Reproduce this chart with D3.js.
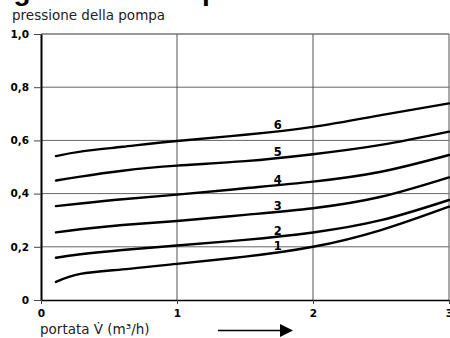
<!DOCTYPE html>
<html>
<head>
<meta charset="utf8">
<style>
  body { margin: 0; background: #fff; }
  svg { display: block; }
</style>
</head>
<body>
<div id="canvas"></div>
<script src="https://cdn.jsdelivr.net/npm/d3@7"></script>
<script>

// portata V (m3/h) at which each curve was read
const portata = [0.11, 0.29, 0.6, 1.0, 1.5, 2.0, 2.5, 3.0];
// pressione della pompa, one array per curve (1 = lowest, 6 = highest)
const curva1 = [0.068, 0.098, 0.115, 0.136, 0.163, 0.200, 0.263, 0.351];
const curva2 = [0.159, 0.172, 0.188, 0.205, 0.226, 0.254, 0.300, 0.376];
const curva3 = [0.254, 0.266, 0.282, 0.297, 0.320, 0.345, 0.388, 0.461];
const curva4 = [0.353, 0.363, 0.379, 0.396, 0.420, 0.445, 0.482, 0.545];
const curva5 = [0.449, 0.464, 0.486, 0.505, 0.522, 0.548, 0.583, 0.633];
const curva6 = [0.541, 0.558, 0.576, 0.598, 0.621, 0.651, 0.695, 0.739];
const curveNames = ["1", "2", "3", "4", "5", "6"];
const yTicks = [0, 0.2, 0.4, 0.6, 0.8, 1.0];
const xTicks = [0, 1, 2, 3];
const labelX = 1.74;

const W = 450, H = 338;
const svg = d3.select("#canvas").append("svg")
    .attr("width", W)
    .attr("height", H)
    .attr("viewBox", `0 0 ${W} ${H}`);

const x = d3.scaleLinear().domain([0, 3]).range([41, 449]);
const y = d3.scaleLinear().domain([0, 1]).range([300, 34]);

// heading cut off at the top edge: only the descenders show
svg.append("text")
    .attr("x", -30)
    .attr("y", -0.5)
    .attr("font-family", "Liberation Sans, Arial, sans-serif")
    .attr("font-weight", "bold")
    .attr("font-size", 28)
    .attr("fill", "#000")
    .text("Diagramma delle prestazioni");

svg.append("text")
    .attr("x", 12)
    .attr("y", 20)
    .attr("font-family", "DejaVu Sans, sans-serif")
    .attr("font-size", 13.5)
    .attr("fill", "#222")
    .text("pressione della pompa");

// grid
svg.append("g").selectAll("line")
    .data(yTicks.filter(d => d > 0))
    .join("line")
    .attr("x1", x(0)).attr("x2", x(3))
    .attr("y1", d => y(d)).attr("y2", d => y(d))
    .attr("stroke", d => d === 1 ? "#333" : "#666")
    .attr("stroke-width", 1);

svg.append("g").selectAll("line")
    .data(xTicks.filter(d => d > 0))
    .join("line")
    .attr("x1", d => x(d)).attr("x2", d => x(d))
    .attr("y1", y(1)).attr("y2", y(0))
    .attr("stroke", "#555")
    .attr("stroke-width", 1);

// axes
const yAxis = svg.append("g")
    .attr("transform", `translate(${x(0)},0)`)
    .call(d3.axisLeft(y)
        .tickValues(yTicks)
        .tickSizeInner(7)
        .tickSizeOuter(0)
        .tickPadding(5)
        .tickFormat(d => d === 0 ? "0" : d3.format(".1f")(d).replace(".", ",")));
yAxis.select(".domain").attr("stroke", "#000").attr("stroke-width", 2);
yAxis.selectAll(".tick line").attr("stroke", "#444");
yAxis.selectAll("text")
    .attr("font-family", "DejaVu Sans, sans-serif")
    .attr("font-weight", "bold")
    .attr("font-size", 10.5)
    .attr("fill", "#000");

const xAxis = svg.append("g")
    .attr("transform", `translate(0,${y(0)})`)
    .call(d3.axisBottom(x)
        .tickValues(xTicks)
        .tickSizeInner(4)
        .tickSizeOuter(0)
        .tickPadding(6)
        .tickFormat(d3.format("d")));
xAxis.select(".domain").attr("stroke", "#000").attr("stroke-width", 1.5);
xAxis.selectAll(".tick line").attr("stroke", "#444");
xAxis.selectAll("text")
    .attr("font-family", "DejaVu Sans, sans-serif")
    .attr("font-weight", "bold")
    .attr("font-size", 10.5)
    .attr("fill", "#000");

// curves
const series = [curva1, curva2, curva3, curva4, curva5, curva6];
const line = d3.line()
    .x(d => x(d[0]))
    .y(d => y(d[1]))
    .curve(d3.curveNatural);

series.forEach((vals, i) => {
    const pts = portata.map((p, j) => [p, vals[j]]);
    svg.append("path")
        .datum(pts)
        .attr("fill", "none")
        .attr("stroke", "#000")
        .attr("stroke-width", 2.4)
        .attr("stroke-linecap", "round")
        .attr("d", line);

    // label sits on top of the curve
    const k = d3.bisectRight(portata, labelX);
    const t = (labelX - portata[k - 1]) / (portata[k] - portata[k - 1]);
    const v = vals[k - 1] + t * (vals[k] - vals[k - 1]);
    svg.append("text")
        .attr("x", x(labelX))
        .attr("y", y(v) - 1.5)
        .attr("text-anchor", "middle")
        .attr("font-family", "DejaVu Sans, sans-serif")
        .attr("font-weight", "bold")
        .attr("font-size", 11.5)
        .attr("fill", "#000")
        .text(curveNames[i]);
});

// x axis caption and arrow
svg.append("text")
    .attr("x", 40)
    .attr("y", 334)
    .attr("font-family", "DejaVu Sans, sans-serif")
    .attr("font-size", 13.5)
    .attr("fill", "#222")
    .text("portata V\u0307 (m\u00b3/h)");

svg.append("line")
    .attr("x1", 218).attr("x2", 282)
    .attr("y1", 330.5).attr("y2", 330.5)
    .attr("stroke", "#000")
    .attr("stroke-width", 1.5);
svg.append("path")
    .attr("d", "M280,324 L293,330.5 L280,337 Z")
    .attr("fill", "#000");
</script>
</body>
</html>
